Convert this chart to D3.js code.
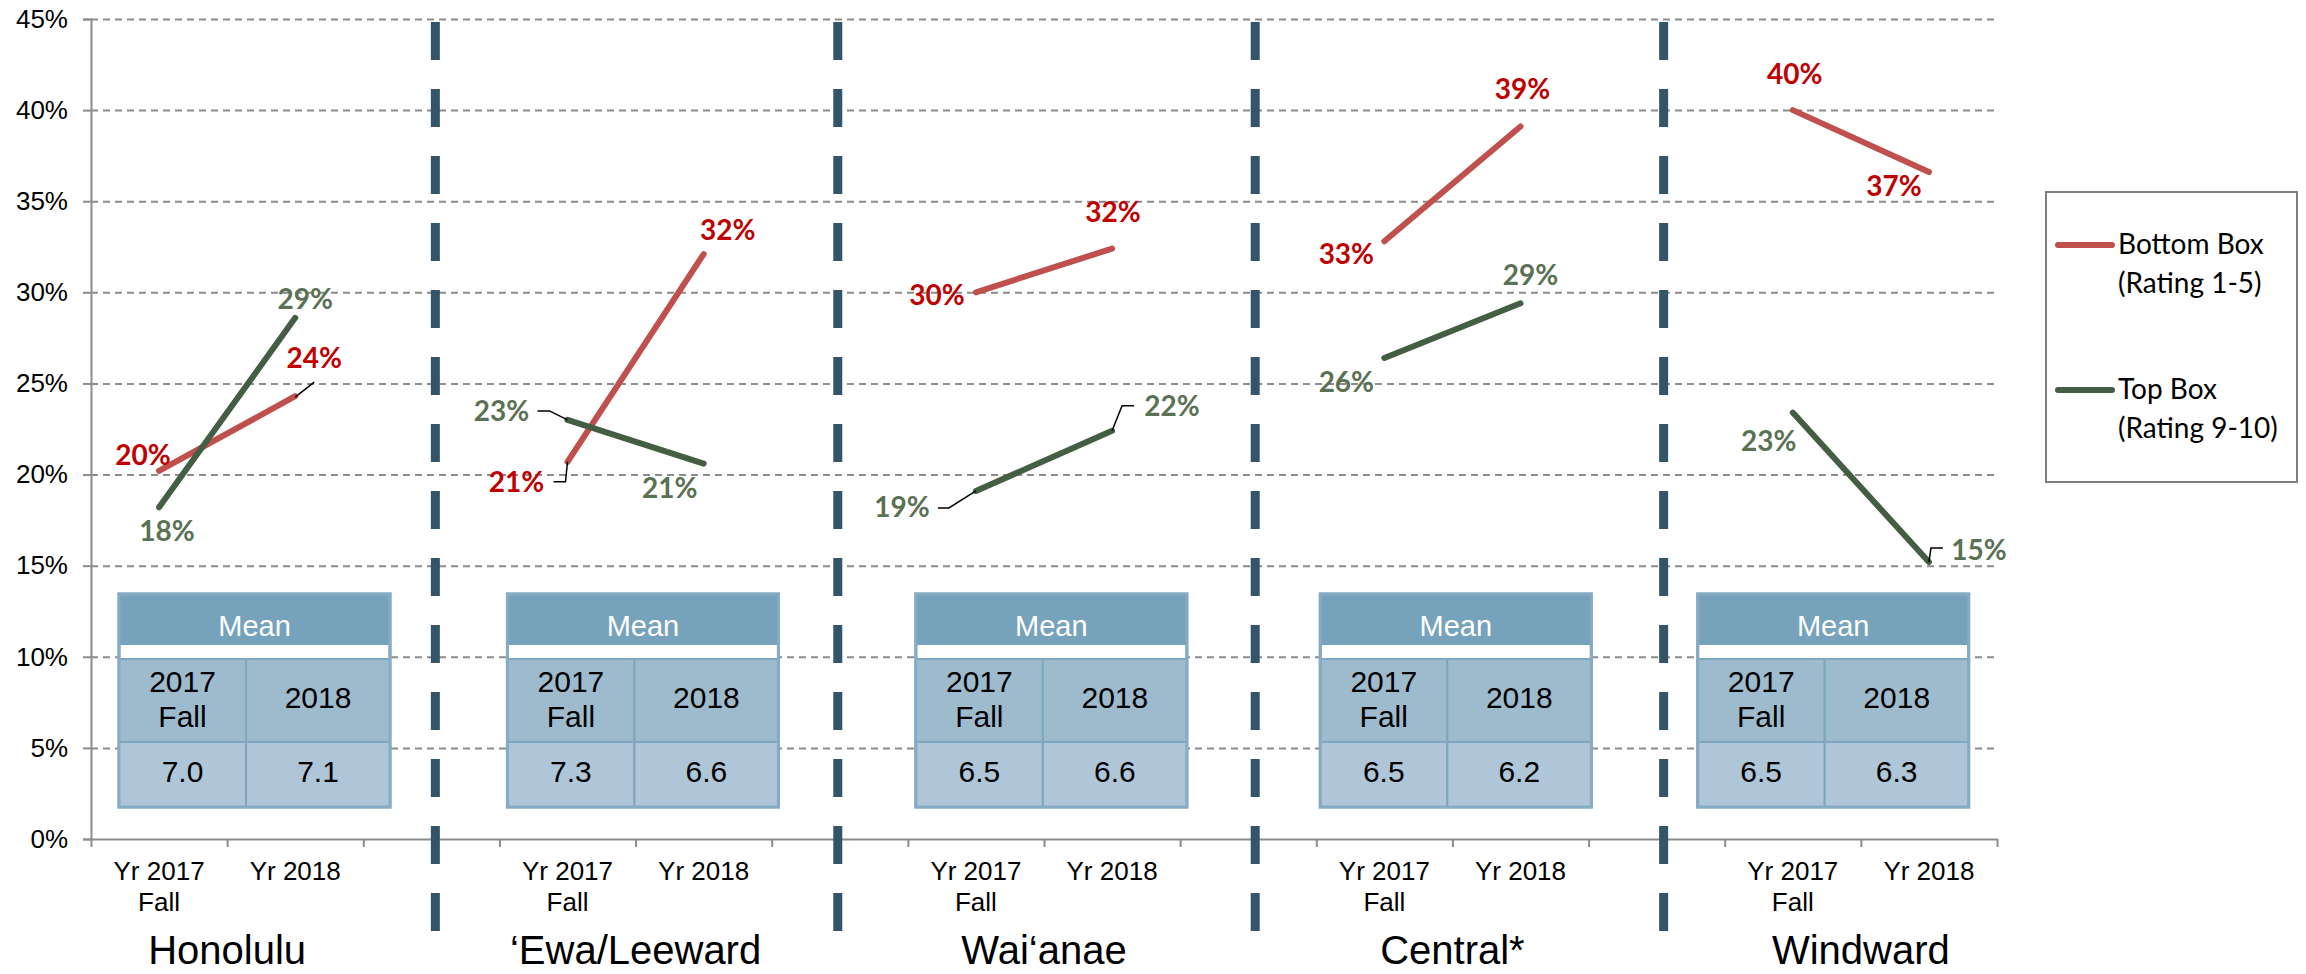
<!DOCTYPE html>
<html>
<head>
<meta charset="utf-8">
<script src="https://cdn.jsdelivr.net/npm/d3@7"></script>
<style>
body { margin: 0; background: #fff; }
svg text { font-family: "Liberation Sans", Arial, sans-serif; }
.val { font-family: Lato, "Open Sans", sans-serif; font-weight: 700; font-size: 28px; }
.legend text { font-family: Lato, "Open Sans", sans-serif; font-size: 28px; fill: #000; }
</style>
</head>
<body>
<div id="chart"></div>
<script>
// ---- data ----
var regions = ["Honolulu", "‘Ewa/Leeward", "Wai‘anae", "Central*", "Windward"];
var periods = ["Yr 2017|Fall", "Yr 2018"];
var yTicks = [0, 5, 10, 15, 20, 25, 30, 35, 40, 45];
var seriesNames = ["Bottom Box|(Rating 1-5)", "Top Box|(Rating 9-10)"];
var bottomBox = [[20.2, 24.3], [20.7, 32.1], [30.0, 32.4], [32.8, 39.1], [40.0, 36.6]];
var topBox = [[18.2, 28.6], [23.0, 20.6], [19.1, 22.4], [26.4, 29.4], [23.4, 15.2]];
var meanHeads = ["2017|Fall", "2018"];
var meanScores = [[7.0, 7.1], [7.3, 6.6], [6.5, 6.6], [6.5, 6.2], [6.5, 6.3]];

// ---- layout (label nudges, leader lines, table/separator shifts) ----
var bottomNudge = [[[-16, -6], [19, -28]], [[-51, 30], [24, -14]], [[-39, 13], [1, -27]], [[-38, 23], [2, -28]], [[2, -26], [-35, 24]]];
var topNudge = [[[8, 34], [10, -9]], [[-66, 1], [-34, 34]], [[-74, 26], [60, -15]], [[-38, 34], [10, -18]], [[-24, 38], [50, -2]]];
var leaders = {
  "b-0-1": [[0, 1], [19, -14]],
  "b-1-0": [[0, 0], [-2, 20], [-14, 20]],
  "t-1-0": [[0, 0], [-18, -9], [-30, -9]],
  "t-2-0": [[0, 0], [-27, 17], [-38, 17]],
  "t-2-1": [[0, 0], [10, -25], [22, -25]],
  "t-4-1": [[0, 0], [2, -14], [14, -14]]
};
var tableShift = [28, 8, 8, 4, -27];
var sepShift = [4, -2, 7, 7];

var W = 2306, H = 974;
var colors = { bottom: "#C0504D", top: "#445E43", bottomText: "#C00000", topText: "#5B7153" };

var svg = d3.select("#chart").append("svg")
  .attr("width", W).attr("height", H);

var x = d3.scaleLinear().domain([0, 14]).range([91, 1997]);
var y = d3.scaleLinear().domain([0, 45]).range([839, 19]);

// gridlines
svg.append("g")
  .attr("transform", "translate(91,0)")
  .call(d3.axisLeft(y).tickValues(yTicks.filter(function(d){ return d > 0; }))
    .tickSize(-(x(14) - x(0))).tickFormat(""))
  .call(function(g){
    g.select(".domain").remove();
    g.selectAll("line").attr("stroke", "#8c8c8c").attr("stroke-width", 2).attr("stroke-dasharray", "7,5");
  });

// y axis
svg.append("g")
  .attr("transform", "translate(91,0)")
  .call(d3.axisLeft(y).tickValues(yTicks).tickSize(8).tickPadding(15)
    .tickFormat(function(d){ return d + "%"; }))
  .call(function(g){
    g.select(".domain").attr("stroke", "#8c8c8c").attr("stroke-width", 2);
    g.selectAll("line").attr("stroke", "#8c8c8c").attr("stroke-width", 2);
    g.selectAll("text").attr("font-size", 26).attr("fill", "#000")
      .style("font-family", "'Liberation Sans', Arial, sans-serif");
  });

// x axis (ticks on slot boundaries)
svg.append("g")
  .attr("transform", "translate(0," + y(0) + ")")
  .call(d3.axisBottom(x).tickValues(d3.range(15)).tickSize(8).tickSizeOuter(0).tickFormat(""))
  .call(function(g){
    g.select(".domain").attr("stroke", "#8c8c8c").attr("stroke-width", 2);
    g.selectAll("line").attr("stroke", "#8c8c8c").attr("stroke-width", 2);
  });

// x tick labels + region names
regions.forEach(function(r, g){
  periods.forEach(function(p, i){
    var t = svg.append("text").attr("text-anchor", "middle").attr("font-size", 26).attr("fill", "#000");
    p.split("|").forEach(function(s, k){
      t.append("tspan").attr("x", x(3 * g + i + 0.5)).attr("y", 880 + k * 31).text(s);
    });
  });
  svg.append("text")
    .attr("x", x(3 * g + 1)).attr("y", 964)
    .attr("text-anchor", "middle").attr("font-size", 40).attr("fill", "#000")
    .text(r);
});

// separators between regions
d3.range(regions.length - 1).forEach(function(g){
  var sx = x(3 * g + 2.5) + sepShift[g];
  svg.append("line")
    .attr("x1", sx).attr("x2", sx).attr("y1", 22).attr("y2", 934)
    .attr("stroke", "#34546A").attr("stroke-width", 9).attr("stroke-dasharray", "38,29");
});

// mean tables
var tblTop = 594, hHead = 51, hGap = 14, hRow1 = 83, hRow2 = 65, tblW = 271, col1 = 127;
regions.forEach(function(r, g){
  var left = x(3 * g) + tableShift[g];
  var tb = svg.append("g").attr("class", "tbl");
  var r1 = tblTop + hHead + hGap, r2 = r1 + hRow1, bottom = r2 + hRow2;
  tb.append("rect").attr("x", left).attr("y", tblTop).attr("width", tblW).attr("height", bottom - tblTop)
    .attr("fill", "#fff").attr("stroke", "#86ABC4").attr("stroke-width", 3);
  tb.append("rect").attr("x", left).attr("y", tblTop).attr("width", tblW).attr("height", hHead).attr("fill", "#76A2BB");
  var cw = [col1, tblW - col1];
  var cx = [left, left + col1];
  [0, 1].forEach(function(i){
    tb.append("rect").attr("x", cx[i]).attr("y", r1).attr("width", cw[i]).attr("height", hRow1)
      .attr("fill", "#9EBBCE").attr("stroke", "#7FA6BF").attr("stroke-width", 2);
    tb.append("rect").attr("x", cx[i]).attr("y", r2).attr("width", cw[i]).attr("height", hRow2)
      .attr("fill", "#AEC6D7").attr("stroke", "#7FA6BF").attr("stroke-width", 2);
    var head = meanHeads[i].split("|");
    var ht = tb.append("text").attr("text-anchor", "middle").attr("font-size", 30).attr("fill", "#000");
    head.forEach(function(s, k){
      ht.append("tspan").attr("x", cx[i] + cw[i] / 2)
        .attr("y", head.length > 1 ? r1 + 33 + k * 35 : r1 + 49).text(s);
    });
    tb.append("text").attr("x", cx[i] + cw[i] / 2).attr("y", r2 + 40)
      .attr("text-anchor", "middle").attr("font-size", 30).attr("fill", "#000")
      .text(d3.format(".1f")(meanScores[g][i]));
  });
  tb.append("rect").attr("x", left).attr("y", tblTop).attr("width", tblW).attr("height", bottom - tblTop)
    .attr("fill", "none").attr("stroke", "#86ABC4").attr("stroke-width", 3);
  tb.append("text").attr("x", left + tblW / 2).attr("y", tblTop + 42)
    .attr("text-anchor", "middle").attr("font-size", 29).attr("fill", "#fff").text("Mean");
});

// lines, labels, leaders
var line = d3.line()
  .x(function(d){ return d[0]; })
  .y(function(d){ return d[1]; });
var pct = d3.format(".0%");

var series = [
  { key: "b", values: bottomBox, nudge: bottomNudge, stroke: colors.bottom, text: colors.bottomText },
  { key: "t", values: topBox, nudge: topNudge, stroke: colors.top, text: colors.topText }
];

series.forEach(function(s){
  s.values.forEach(function(vals, g){
    var pts = vals.map(function(v, i){ return [x(3 * g + i + 0.5), y(v)]; });
    svg.append("path").attr("d", line(pts))
      .attr("fill", "none").attr("stroke", s.stroke).attr("stroke-width", 6).attr("stroke-linecap", "round");
    pts.forEach(function(p, i){
      var ld = leaders[s.key + "-" + g + "-" + i];
      if (ld) {
        svg.append("path")
          .attr("d", line(ld.map(function(o){ return [p[0] + o[0], p[1] + o[1]]; })))
          .attr("fill", "none").attr("stroke", "#000").attr("stroke-width", 1.5);
      }
      var n = s.nudge[g][i];
      svg.append("text").attr("class", "val")
        .attr("x", p[0] + n[0]).attr("y", p[1] + n[1])
        .attr("text-anchor", "middle").attr("fill", s.text)
        .text(pct(vals[i] / 100));
    });
  });
});

// legend
var lg = svg.append("g").attr("class", "legend");
lg.append("rect").attr("x", 2046).attr("y", 192).attr("width", 251).attr("height", 290)
  .attr("fill", "#fff").attr("stroke", "#7f7f7f").attr("stroke-width", 2);
seriesNames.forEach(function(nm, i){
  var ly = 245 + i * 145;
  lg.append("line").attr("x1", 2058).attr("x2", 2112).attr("y1", ly).attr("y2", ly)
    .attr("stroke", series[i].stroke).attr("stroke-width", 6).attr("stroke-linecap", "round");
  var t = lg.append("text");
  nm.split("|").forEach(function(s, k){
    t.append("tspan").attr("x", 2118).attr("y", ly + 9 + k * 39).text(s);
  });
});
</script>
</body>
</html>
